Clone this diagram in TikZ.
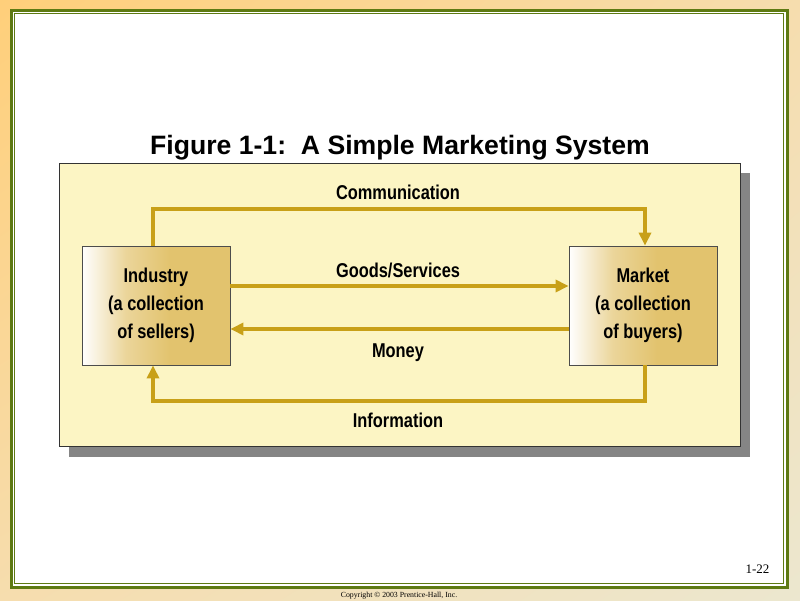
\documentclass[tikz,border=0pt]{standalone}
\usepackage{fontspec}
\setmainfont{Liberation Serif}
\newfontfamily\titlefont{Liberation Sans}
\newfontfamily\condfont[FakeStretch=0.82,BoldFont={Liberation Sans Bold}]{Liberation Sans}
\usetikzlibrary{arrows.meta,shadings}
\definecolor{bgorange}{HTML}{FFCF7A}
\definecolor{bgpale}{HTML}{ECE7CF}
\definecolor{bgmid}{HTML}{F6DDAE}
\definecolor{framegreen}{HTML}{5E7A12}
\definecolor{panelfill}{HTML}{FCF5C4}
\definecolor{arrowgold}{HTML}{C8A018}
\definecolor{boxtan}{HTML}{E2C36E}
\definecolor{shadowgrey}{HTML}{858585}
\tikzset{
  flow/.style={draw=arrowgold, line width=3.6pt, -{Triangle[length=13pt,width=12pt]}},
  actor/.style={draw=black!70, line width=0.8pt, minimum width=148pt, minimum height=119pt,
     align=center, font=\condfont\bfseries\fontsize{20}{28}\selectfont, inner sep=0pt},
  flowlabel/.style={font=\condfont\bfseries\fontsize{20}{24}\selectfont, inner sep=0pt}
}
\begin{document}
\begin{tikzpicture}[x=1pt,y=-1pt]
\useasboundingbox (0,0) rectangle (800,600);
% background
\shade[upper left=bgorange, upper right=bgmid, lower left=bgmid, lower right=bgpale] (0,0) rectangle (800,600);
% frame
\fill[white] (11.5,10.5) rectangle (787.5,587.5);
\draw[framegreen, line width=3pt] (11.5,10.5) rectangle (787.5,587.5);
\draw[framegreen, line width=1pt] (14.5,13.5) rectangle (783.5,583.5);
% title
\node[font=\titlefont\bfseries\fontsize{26.6}{30}\selectfont, anchor=base] (title) at (400,154) {Figure 1-1:\ \ A Simple Marketing System};
% panel
\fill[shadowgrey] (69,173) rectangle (750,457);
\draw[fill=panelfill, draw=black!80, line width=0.8pt] (59,163) rectangle (740,446);
% boxes
\shade[left color=white, right color=boxtan, middle color=boxtan!70] (82,246) rectangle (170,365);
\fill[boxtan] (170,246) rectangle (230,365);
\node[actor] (ind) at (156,305.5) {Industry\\(a collection\\of sellers)};
\shade[left color=white, right color=boxtan, middle color=boxtan!70] (569,246) rectangle (657,365);
\fill[boxtan] (657,246) rectangle (717,365);
\node[actor] (mkt) at (643,305.5) {Market\\(a collection\\of buyers)};
% connectors
\coordinate (c1) at (153,209);
\coordinate (c2) at (645,209);
\coordinate (i1) at (645,401);
\coordinate (i2) at (153,401);
\draw[flow] (ind.north -| c1) -- (c1) -- (c2) -- (mkt.north -| c2);
\draw[flow] (ind.east |- 0,286) -- (mkt.west |- 0,286);
\draw[flow] (mkt.west |- 0,329) -- (ind.east |- 0,329);
\draw[flow] (mkt.south -| i1) -- (i1) -- (i2) -- (ind.south -| i2);
% labels
\node[flowlabel, anchor=base] (lc) at (398,199) {Communication};
\node[flowlabel, anchor=base] (lg) at (398,277) {Goods/Services};
\node[flowlabel, anchor=base] (lm) at (398,357) {Money};
\node[flowlabel, anchor=base] (li) at (398,427) {Information};
% footer
\node[font=\fontsize{13}{15}\selectfont, anchor=base east] (pg) at (773,573) {1-22};
\node[font=\fontsize{7.8}{9}\selectfont, anchor=base] (copy) at (399,597) {Copyright \textcopyright{} 2003 Prentice-Hall, Inc.};
\end{tikzpicture}
\end{document}
